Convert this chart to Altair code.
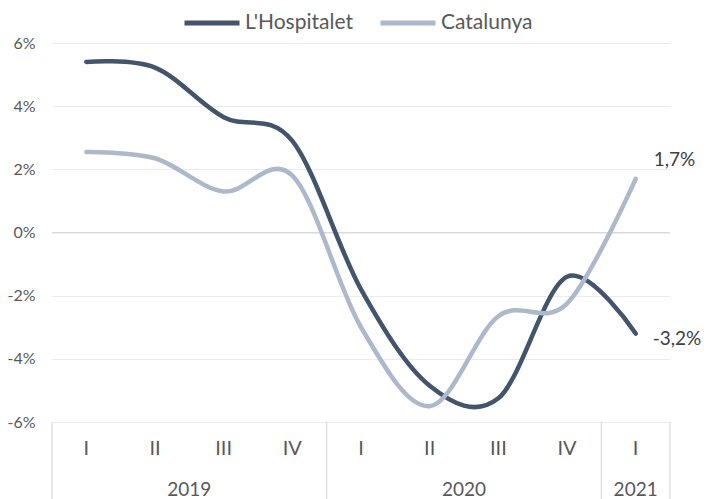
import altair as alt
import pandas as pd

# ---- data ----
quarters = ["I", "II", "III", "IV", "I", "II", "III", "IV", "I"]
years = ["2019", "2019", "2019", "2019", "2020", "2020", "2020", "2020", "2021"]
hospitalet = [5.4, 5.22, 3.65, 2.9, -1.8, -4.85, -5.25, -1.4, -3.2]
catalunya = [2.55, 2.35, 1.3, 1.8, -3.0, -5.5, -2.65, -2.25, 1.7]
series_names = ["L'Hospitalet", "Catalunya"]
series_colors = ["#44546A", "#ADB9CA"]
year_labels = ["2019", "2020", "2021"]
year_centers = [1.5, 5.5, 8]
separators = [-0.5, 3.5, 7.5, 8.5]
y_ticks = [-6, -4, -2, 0, 2, 4, 6]

FONT = "Lato"
W, H = 618, 379

rows = []
for i in range(len(quarters)):
    rows.append({"idx": i, "serie": series_names[0], "value": hospitalet[i]})
    rows.append({"idx": i, "serie": series_names[1], "value": catalunya[i]})
df = pd.DataFrame(rows)


def fmt(v):
    return f"{v:.1f}".replace(".", ",") + "%"


n = len(quarters) - 1
cat_last = pd.DataFrame({"idx": [n], "value": [catalunya[n]], "label": [fmt(catalunya[n])]})
hos_last = pd.DataFrame({"idx": [n], "value": [hospitalet[n]], "label": [fmt(hospitalet[n])]})

q_df = pd.DataFrame({"idx": list(range(len(quarters))), "q": quarters})
y_df = pd.DataFrame({"idx": year_centers, "year": year_labels})
sep_df = pd.DataFrame({"idx": separators})
zero_df = pd.DataFrame({"value": [0]})

xs = alt.Scale(domain=[-0.5, 8.5], nice=False, zero=False)
ys = alt.Scale(domain=[-6, 6], nice=False, zero=False)


def y_axis():
    return alt.Axis(
        values=y_ticks, labelExpr="datum.value + '%'", grid=True, gridColor="#ececec",
        gridWidth=1, domain=False, ticks=False, labelPadding=17, labelFontSize=16,
        labelColor="#595959", labelFont=FONT, title=None)


def yenc():
    return alt.Y("value:Q", scale=ys, axis=y_axis())


def xenc():
    return alt.X("idx:Q", scale=xs, axis=None)


zero_rule = alt.Chart(zero_df).mark_rule(color="#d9d9d9", strokeWidth=1.2).encode(y=yenc())

lines = alt.Chart(df).mark_line(interpolate="cardinal", strokeWidth=4.5, strokeCap="round", strokeJoin="round").encode(
    x=xenc(),
    y=yenc(),
    color=alt.Color("serie:N", scale=alt.Scale(domain=series_names, range=series_colors),
                    legend=alt.Legend(orient="none", legendX=130, legendY=-50, direction="horizontal",
                                      symbolType="stroke", symbolSize=3025, symbolStrokeWidth=5,
                                      labelFont=FONT, labelFontSize=21, labelColor="#595959",
                                      labelOffset=3, columnPadding=17, title=None)),
)

sep_rules = alt.Chart(sep_df).mark_rule(color="#d9d9d9", strokeWidth=1.2).encode(
    x=xenc(), y=alt.value(H), y2=alt.value(H + 77)
)

q_text = alt.Chart(q_df).mark_text(font=FONT, fontSize=20, color="#595959", baseline="middle").encode(
    x=xenc(), y=alt.value(406), text="q:N"
)
y_text = alt.Chart(y_df).mark_text(font=FONT, fontSize=19, color="#595959", baseline="middle").encode(
    x=xenc(), y=alt.value(447), text="year:N"
)

lab_cat = alt.Chart(cat_last).mark_text(
    font=FONT, fontSize=19, color="#404040", align="left", baseline="middle", dx=18, dy=-19
).encode(x=xenc(), y=yenc(), text="label:N")
lab_hos = alt.Chart(hos_last).mark_text(
    font=FONT, fontSize=19, color="#404040", align="left", baseline="middle", dx=17, dy=5
).encode(x=xenc(), y=yenc(), text="label:N")

chart = alt.layer(zero_rule, sep_rules, lines, q_text, y_text, lab_cat, lab_hos).properties(
    width=W, height=H,
    autosize=alt.AutoSizeParams(type="none"),
    padding={"left": 44, "top": 35, "right": 32, "bottom": 77},
).configure_view(stroke=None)

chart.save("out.html", embed_options={"renderer": "svg", "actions": False})
